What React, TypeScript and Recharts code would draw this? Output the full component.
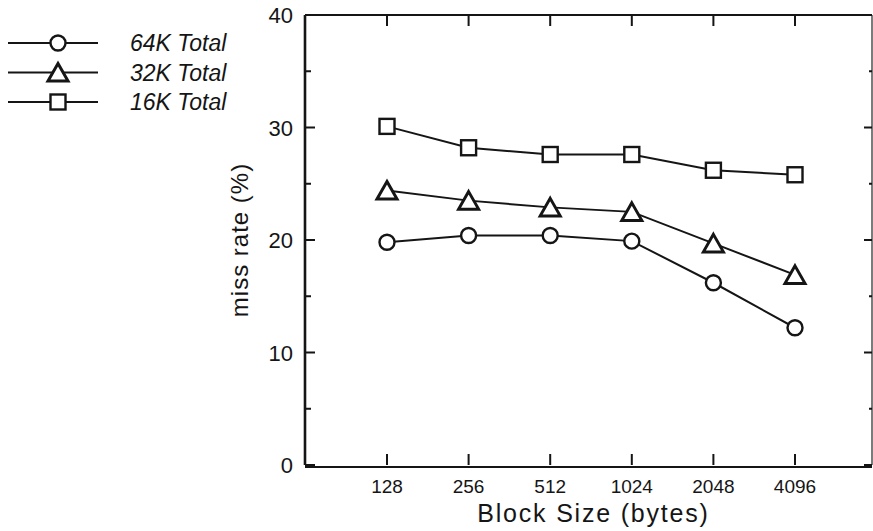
import React from 'react';
import { LineChart, Line, XAxis, YAxis, Legend } from 'recharts';

// ---- data ----
const blockSizes = ['128', '256', '512', '1024', '2048', '4096'];
const miss64K = [19.8, 20.4, 20.4, 19.9, 16.2, 12.2];
const miss32K = [24.4, 23.5, 22.9, 22.5, 19.7, 16.9];
const miss16K = [30.1, 28.2, 27.6, 27.6, 26.2, 25.8];
const yDomain: [number, number] = [0, 40];
const yMajorTicks = [0, 10, 20, 30, 40];
const yMinorTicks = [5, 15, 25, 35];
const seriesNames = ['64K Total', '32K Total', '16K Total'];
const seriesKeys = ['k64', 'k32', 'k16'];
const xTitle = 'Block Size (bytes)';
const yTitle = 'miss rate (%)';

const data = blockSizes.map((size, i) => ({
  size,
  k64: miss64K[i],
  k32: miss32K[i],
  k16: miss16K[i],
}));

const allYTicks = [...yMajorTicks, ...yMinorTicks].sort((a, b) => a - b);
// frame-edge carriers for the inward tick marks on the left (edge 0) and right (edge 1) sides
const leftTickData = allYTicks.map((v) => ({ edge: 0, v }));
const rightTickData = allYTicks.map((v) => ({ edge: 1, v }));
// carriers for the inward category tick marks on the bottom and top of the frame
const bottomTickData = blockSizes.map((_, i) => ({ idx: i, v: yDomain[0] }));
const topTickData = blockSizes.map((_, i) => ({ idx: i, v: yDomain[1] }));

const INK = '#151515';
const FONT = '"Liberation Sans", Arial, Helvetica, sans-serif';
const PAD = { left: 82, right: 77 };

type Shape = 'circle' | 'triangle' | 'square';
const shapes: Shape[] = ['circle', 'triangle', 'square'];

function Marker({ shape, cx, cy }: { shape: Shape; cx: number; cy: number }) {
  if (cx == null || cy == null) return null;
  if (shape === 'circle')
    return <circle cx={cx} cy={cy} r={7.5} fill="#fff" stroke={INK} strokeWidth={2.4} />;
  if (shape === 'square')
    return <rect x={cx - 7.5} y={cy - 7.5} width={15} height={15} fill="#fff" stroke={INK} strokeWidth={2.4} />;
  return (
    <polygon
      points={`${cx},${cy - 9} ${cx + 10},${cy + 8.5} ${cx - 10},${cy + 8.5}`}
      fill="#fff"
      stroke={INK}
      strokeWidth={3}
      strokeLinejoin="miter"
    />
  );
}

const makeDot = (shape: Shape) => (p: any) =>
  <Marker key={`${shape}-${p.index}`} shape={shape} cx={p.cx} cy={p.cy} />;

const TW = 2; // tick stroke width
const vTickDot = (len: number, name: string) => (p: any) => {
  if (p.cx == null || p.cy == null) return <g key={`${name}-${p.index}`} />;
  const y0 = len < 0 ? p.cy + len : p.cy;
  return <rect key={`${name}-${p.index}`} x={p.cx - TW / 2} y={y0} width={TW} height={Math.abs(len)} fill={INK} />;
};
const hTickDot = (major: number, minor: number, name: string) => (p: any) => {
  if (p.cx == null || p.cy == null) return <g key={`${name}-${p.index}`} />;
  const v = p.payload?.v;
  const len = v % 10 === 0 ? major : minor;
  const x0 = len < 0 ? p.cx + len : p.cx;
  return <rect key={`${name}-${p.index}`} x={x0} y={p.cy - TW / 2} width={Math.abs(len)} height={TW} fill={INK} />;
};

const LeftTickLabel = (p: any) => (
  <text x={p.x - 12} y={p.y + 8} textAnchor="end" fontSize={22} fontFamily={FONT} fill={INK}>
    {p.payload.value}
  </text>
);

const BottomTickLabel = (p: any) => (
  <text x={p.x} y={p.y + 26} textAnchor="middle" fontSize={19} fontFamily={FONT} fill={INK}>
    {p.payload.value}
  </text>
);

const renderXLabel = (p: any) => {
  const vb = p.viewBox || {};
  return (
    <text
      x={vb.x + vb.width / 2 + 5}
      y={vb.y + 55}
      textAnchor="middle"
      fontSize={25}
      letterSpacing={1.8}
      fontFamily={FONT}
      fill={INK}
    >
      {xTitle}
    </text>
  );
};

const renderYLabel = (p: any) => {
  const vb = p.viewBox || {};
  const x = vb.x + vb.width - 57;
  const y = vb.y + vb.height / 2;
  return (
    <text
      x={x}
      y={y}
      transform={`rotate(-90, ${x}, ${y})`}
      textAnchor="middle"
      fontSize={24}
      letterSpacing={1}
      fontFamily={FONT}
      fill={INK}
    >
      {yTitle}
    </text>
  );
};

const renderLegend = () => (
  <svg width={260} height={100} style={{ display: 'block' }}>
    {seriesNames.map((name, i) => {
      const cy = 15 + i * 29.5;
      return (
        <g key={seriesKeys[i]}>
          <line x1={8} x2={98} y1={cy} y2={cy} stroke={INK} strokeWidth={2} />
          <Marker shape={shapes[i]} cx={58} cy={cy} />
          <text x={130} y={cy + 8} fontSize={23} fontStyle="italic" fontFamily={FONT} fill={INK}>
            {name}
          </text>
        </g>
      );
    })}
  </svg>
);

const hiddenLine = {
  stroke: 'none',
  activeDot: false,
  legendType: 'none' as const,
  isAnimationActive: false,
};

export default function App() {
  return (
    <div style={{ position: 'absolute', left: 0, top: 0, background: '#fff' }}>
      <LineChart width={873} height={531} data={data} margin={{ top: 14, right: 0, bottom: 0, left: 0 }}>
        <XAxis
          dataKey="size"
          xAxisId="x"
          orientation="bottom"
          height={66}
          padding={PAD}
          interval={0}
          tickSize={0}
          tickMargin={0}
          tickLine={false}
          tick={<BottomTickLabel />}
          axisLine={{ stroke: INK, strokeWidth: 2.2 }}
          label={renderXLabel}
        />
        <XAxis
          dataKey="size"
          xAxisId="xTop"
          orientation="top"
          height={1}
          padding={PAD}
          interval={0}
          tickSize={0}
          tickLine={false}
          tick={false}
          axisLine={{ stroke: INK, strokeWidth: 2.2 }}
        />
        <XAxis xAxisId="edge" dataKey="edge" type="number" domain={[0, 1]} height={1} hide />
        <XAxis
          xAxisId="edgeCat"
          dataKey="idx"
          type="number"
          domain={[0, blockSizes.length - 1]}
          padding={PAD}
          height={1}
          hide
        />
        <YAxis
          yAxisId="y"
          width={305}
          domain={yDomain}
          ticks={yMajorTicks}
          interval={0}
          tickSize={0}
          tickMargin={0}
          tickLine={false}
          tick={<LeftTickLabel />}
          axisLine={{ stroke: INK, strokeWidth: 2.6 }}
          label={renderYLabel}
        />
        <YAxis
          yAxisId="yRight"
          orientation="right"
          width={1}
          domain={yDomain}
          ticks={yMajorTicks}
          interval={0}
          tickSize={0}
          tickLine={false}
          tick={false}
          axisLine={{ stroke: '#444', strokeWidth: 1.4 }}
        />
        <Legend
          layout="vertical"
          align="center"
          verticalAlign="middle"
          content={renderLegend}
          wrapperStyle={{ left: 0, top: 28, width: 260, height: 100 }}
        />
        {/* inward tick marks of the frame, placed through the axes' scales */}
        <Line {...hiddenLine} xAxisId="edgeCat" yAxisId="y" data={bottomTickData} dataKey="v" dot={vTickDot(-11, 'bt')} />
        <Line {...hiddenLine} xAxisId="edgeCat" yAxisId="y" data={topTickData} dataKey="v" dot={vTickDot(11, 'tt')} />
        <Line {...hiddenLine} xAxisId="edge" yAxisId="y" data={leftTickData} dataKey="v" dot={hTickDot(10, 6, 'lt')} />
        <Line {...hiddenLine} xAxisId="edge" yAxisId="y" data={rightTickData} dataKey="v" dot={hTickDot(-8, -3, 'rt')} />
        <Line
          xAxisId="x"
          yAxisId="y"
          dataKey="k64"
          name={seriesNames[0]}
          stroke={INK}
          strokeWidth={2}
          dot={makeDot('circle')}
          activeDot={false}
          isAnimationActive={false}
        />
        <Line
          xAxisId="x"
          yAxisId="y"
          dataKey="k32"
          name={seriesNames[1]}
          stroke={INK}
          strokeWidth={2}
          dot={makeDot('triangle')}
          activeDot={false}
          isAnimationActive={false}
        />
        <Line
          xAxisId="x"
          yAxisId="y"
          dataKey="k16"
          name={seriesNames[2]}
          stroke={INK}
          strokeWidth={2}
          dot={makeDot('square')}
          activeDot={false}
          isAnimationActive={false}
        />
        {/* invisible carrier so the top/right frame axes have a domain */}
        <Line {...hiddenLine} xAxisId="xTop" yAxisId="yRight" dataKey="k16" dot={false} />
      </LineChart>
    </div>
  );
}
